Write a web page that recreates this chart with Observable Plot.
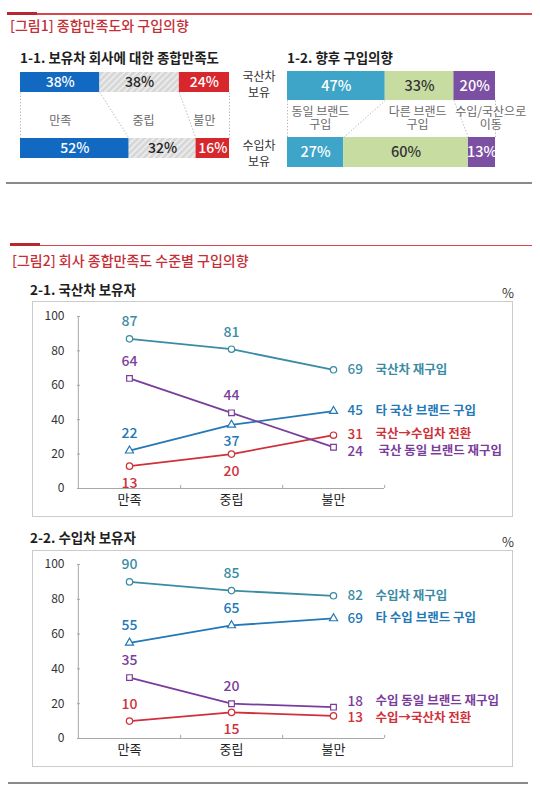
<!DOCTYPE html>
<html>
<head>
<meta charset="utf-8">
<script src="https://cdn.jsdelivr.net/npm/d3@7"></script>
<script src="https://cdn.jsdelivr.net/npm/@observablehq/plot@0.6"></script>
<style>
body { margin: 0; width: 540px; height: 802px; position: relative; background: #fff; overflow: hidden;
       font-family: "Noto Sans CJK KR", "Noto Sans", sans-serif; }
.abs { position: absolute; white-space: nowrap; line-height: 1; }
.head { color: #c42f37; font-size: 14px; font-weight: 500; }
.sub { color: #1e1e1e; font-size: 13.5px; font-weight: 700; }
.row { font-size: 12px; color: #333; text-align: center; width: 44px; line-height: 16px; }
.box { border: 1.5px solid #cbcbcb; box-sizing: border-box; background: transparent; }
</style>
</head>
<body>

<div class="abs" style="left:8px;top:13px;width:524px;height:1.5px;background:#d9474f"></div>
<div class="abs" style="left:7px;top:11.5px;width:30px;height:3px;background:#b8272f"></div>
<div class="abs head" style="left:10px;top:18px">[그림1] 종합만족도와 구입의향</div>
<div class="abs sub" style="left:20px;top:51px">1-1. 보유차 회사에 대한 종합만족도</div>
<div class="abs sub" style="left:287px;top:51px">1-2. 향후 구입의향</div>
<div class="abs row" style="left:237px;top:68px">국산차<br>보유</div>
<div class="abs row" style="left:237px;top:137px">수입차<br>보유</div>
<div class="abs" style="left:6px;top:182px;width:526px;height:2px;background:#8a8a8a"></div>

<div class="abs" style="left:10px;top:244.5px;width:522px;height:1.5px;background:#d9474f"></div>
<div class="abs" style="left:10px;top:243px;width:30px;height:3px;background:#b8272f"></div>
<div class="abs head" style="left:12px;top:253px">[그림2] 회사 종합만족도 수준별 구입의향</div>
<div class="abs sub" style="left:30px;top:283px">2-1. 국산차 보유자</div>
<div class="abs" style="left:502px;top:286px;font-size:13px;color:#333">%</div>
<div class="abs sub" style="left:30px;top:531px">2-2. 수입차 보유자</div>
<div class="abs" style="left:502px;top:535px;font-size:13px;color:#333">%</div>
<div class="abs" style="left:8px;top:782px;width:520px;height:2px;background:#8a8a8a"></div>

<div id="sat" class="abs" style="left:0;top:60px"></div>
<div id="intent" class="abs" style="left:267px;top:60px"></div>
<div id="dom" class="abs" style="left:0;top:300px"></div>
<div id="imp" class="abs" style="left:0;top:550px"></div>
<div class="abs box" style="left:32px;top:301px;width:481px;height:216px"></div>
<div class="abs box" style="left:32px;top:550px;width:481px;height:217px"></div>

<script>
// 1-1 종합만족도 (%)
const sat = ["만족", "중립", "불만"]
const satDomestic = [38, 38, 24]
const satImport = [52, 32, 16]

// 1-2 향후 구입의향 (%)
const intent = ["동일 브랜드\n구입", "다른 브랜드\n구입", "수입/국산으로\n이동"]
const intentDomestic = [47, 33, 20]
const intentImport = [27, 60, 13]

// 2-x 만족도 수준별 구입의향
const levels = ["만족", "중립", "불만"]
const domNames = ["국산차 재구입", "타 국산 브랜드 구입", "국산→수입차 전환", "국산 동일 브랜드 재구입"]
const domValues = [[87, 81, 69], [22, 37, 45], [13, 20, 31], [64, 44, 24]]
const impNames = ["수입차 재구입", "타 수입 브랜드 구입", "수입 동일 브랜드 재구입", "수입→국산차 전환"]
const impValues = [[90, 85, 82], [55, 65, 69], [35, 20, 18], [10, 15, 13]]

const FONT = '"Noto Sans CJK KR", "Noto Sans", sans-serif'

const kinds = {
    rebuy: {color: "#3a8ca4", symbol: "circle"},
    other: {color: "#2378b6", symbol: "triangle"},
    swap: {color: "#cf313a", symbol: "circle"},
    same: {color: "#7a3d9c", symbol: "square"},
}
const domKinds = ["rebuy", "other", "swap", "same"]
const impKinds = ["rebuy", "other", "same", "swap"]

function segments(values, y1, y2) {
    let acc = 0
    return values.map((v, i) => {
        const s = {i, value: v, x1: acc, x2: acc + v, y1, y2}
        acc += v
        return s
    })
}

function stackPanel(p) {
    let top = segments(p.top, p.rowTop[0], p.rowTop[1])
    let bottom = segments(p.bottom, p.rowBottom[0], p.rowBottom[1])
    let all = top.concat(bottom)
    let bounds = [0].concat(top.map(d => d.x2)).map((x, k) => ({top: x, bottom: k == 0 ? 0 : bottom[k-1].x2}))

    let marks = [
        Plot.link(bounds, {
            x1: "top", y1: () => p.rowTop[1], x2: "bottom", y2: () => p.rowBottom[0],
            stroke: "#b0b0b0", strokeWidth: 1, strokeDasharray: "1.2,2"
        }),
        Plot.rect(all, {x1: "x1", x2: "x2", y1: "y1", y2: "y2", fill: d => p.fills[d.i]}),
        Plot.text(all, {
            x: d => (d.x1 + d.x2) / 2, y: d => (d.y1 + d.y2) / 2,
            text: d => d.value + "%", fill: d => p.textFills[d.i],
            fontSize: p.valueSize, fontWeight: 500
        }),
    ]
    p.labels.forEach((label, i) => {
        marks.push(Plot.text([label], {
            x: () => (top[i].x1 + top[i].x2) / 2, y: () => p.labelY,
            text: d => d, fill: "#6a6a6a", fontSize: 12, lineHeight: 1.1, dx: p.labelDx[i]
        }))
    })

    let svg = Plot.plot({
        width: p.width, height: p.height,
        marginLeft: p.margins[0], marginRight: p.margins[1], marginTop: p.margins[2], marginBottom: p.margins[3],
        x: {domain: [0, 100], axis: null},
        y: {domain: [0, p.rowBottom[1]], reverse: true, axis: null},
        color: {type: "identity"},
        style: {fontFamily: FONT, background: "transparent", overflow: "visible"},
        marks: marks
    })
    svg.insertAdjacentHTML("afterbegin",
        `<defs><pattern id="hatch" width="4.5" height="4.5" patternUnits="userSpaceOnUse" patternTransform="rotate(45)">
         <rect width="4.5" height="4.5" fill="#d6d6d6"/>
         <line x1="2.2" y1="0" x2="2.2" y2="4.5" stroke="#f2f2f2" stroke-width="1.5"/></pattern></defs>`)
    return svg
}

function lineChart(names, values, kindList, p) {
    let bw = (540 - 77 - 156) / levels.length
    let marks = [
        Plot.ruleY([0], {stroke: "#a8a8a8"}),
        Plot.ruleX(["만족"], {dx: -bw / 2, y1: 0, y2: 100, stroke: "#a8a8a8"}),
        Plot.ruleX(levels, {dx: bw / 2, y1: 0, y2: 1.8, stroke: "#a8a8a8"}),
        Plot.axisY({ticks: [20, 40, 60, 80, 100], tickSize: -3, text: null, label: null, stroke: "#a8a8a8"}),
        Plot.axisY({ticks: [0, 20, 40, 60, 80, 100], tickSize: 0, tickPadding: 13, fontSize: 12, fill: "#333", label: null}),
        Plot.axisX({tickSize: 0, tickPadding: 6, fontSize: 13, fill: "#222", label: null}),
    ]

    names.forEach((name, s) => {
        let k = kinds[kindList[s]]
        let pts = values[s].map((v, j) => ({level: levels[j], value: v, j}))
        let below = p.below[s] || []
        let tweak = p.endTweak[s] || [0, 0]
        let last = pts.slice(-1)
        marks.push(
            Plot.line(pts, {x: "level", y: "value", stroke: k.color, strokeWidth: 1.8}),
            Plot.dot(pts, {x: "level", y: "value", symbol: () => k.symbol, r: k.symbol == "triangle" ? 3 : 3.2,
                fill: "white", stroke: k.color, strokeWidth: 1.2}),
            Plot.text(pts.filter(d => d.j < 2 && !below.includes(d.j)), {x: "level", y: "value", text: "value",
                dy: -17, fill: k.color, fontSize: 14, fontWeight: 500}),
            Plot.text(pts.filter(d => d.j < 2 && below.includes(d.j)), {x: "level", y: "value", text: "value",
                dy: 17, fill: k.color, fontSize: 14, fontWeight: 500}),
            Plot.text(last, {x: "level", y: "value", text: "value", textAnchor: "start",
                dx: 14, dy: tweak[1], fill: k.color, fontSize: 13.5, fontWeight: 500}),
            Plot.text(last, {x: "level", y: "value", text: () => name, textAnchor: "start",
                dx: 42 + tweak[0], dy: tweak[1], fill: k.color, fontSize: 12.5, fontWeight: 700}),
        )
    })

    return Plot.plot({
        width: 540, height: p.height,
        marginLeft: 77, marginRight: 156, marginTop: p.marginTop, marginBottom: p.marginBottom,
        x: {type: "band", domain: levels, padding: 0},
        y: {domain: [0, 100]},
        symbol: {type: "identity"},
        style: {fontFamily: FONT, background: "transparent"},
        marks: marks
    })
}

document.getElementById("sat").append(stackPanel({
    top: satDomestic, bottom: satImport, labels: sat,
    fills: ["#1169c1", "url(#hatch)", "#d7272d"], textFills: ["white", "#222", "white"],
    width: 290, height: 110, margins: [20, 61, 12, 12],
    rowTop: [0, 20], rowBottom: [66, 86], labelY: 48, labelDx: [0, 4, 0], valueSize: 14
}))

document.getElementById("intent").append(stackPanel({
    top: intentDomestic, bottom: intentImport, labels: intent,
    fills: ["#3ea5c8", "#c6dca1", "#7b50a3"], textFills: ["white", "#333", "white"],
    width: 273, height: 120, margins: [20, 45, 11, 13],
    rowTop: [0, 29], rowBottom: [66, 96], labelY: 47, labelDx: [-16, -2, 16], valueSize: 14.5
}))

document.getElementById("dom").append(lineChart(domNames, domValues, domKinds, {
    height: 218, marginTop: 16, marginBottom: 30,
    below: [[], [1], [0, 1], []], endTweak: [[0, 0], [0, 0], [0, -1], [3, 4]]
}))

document.getElementById("imp").append(lineChart(impNames, impValues, impKinds, {
    height: 217, marginTop: 14, marginBottom: 29,
    below: [[], [], [], [1]], endTweak: [[0, 0], [0, 0], [0, -6], [0, 2]]
}))
</script>
</body>
</html>
